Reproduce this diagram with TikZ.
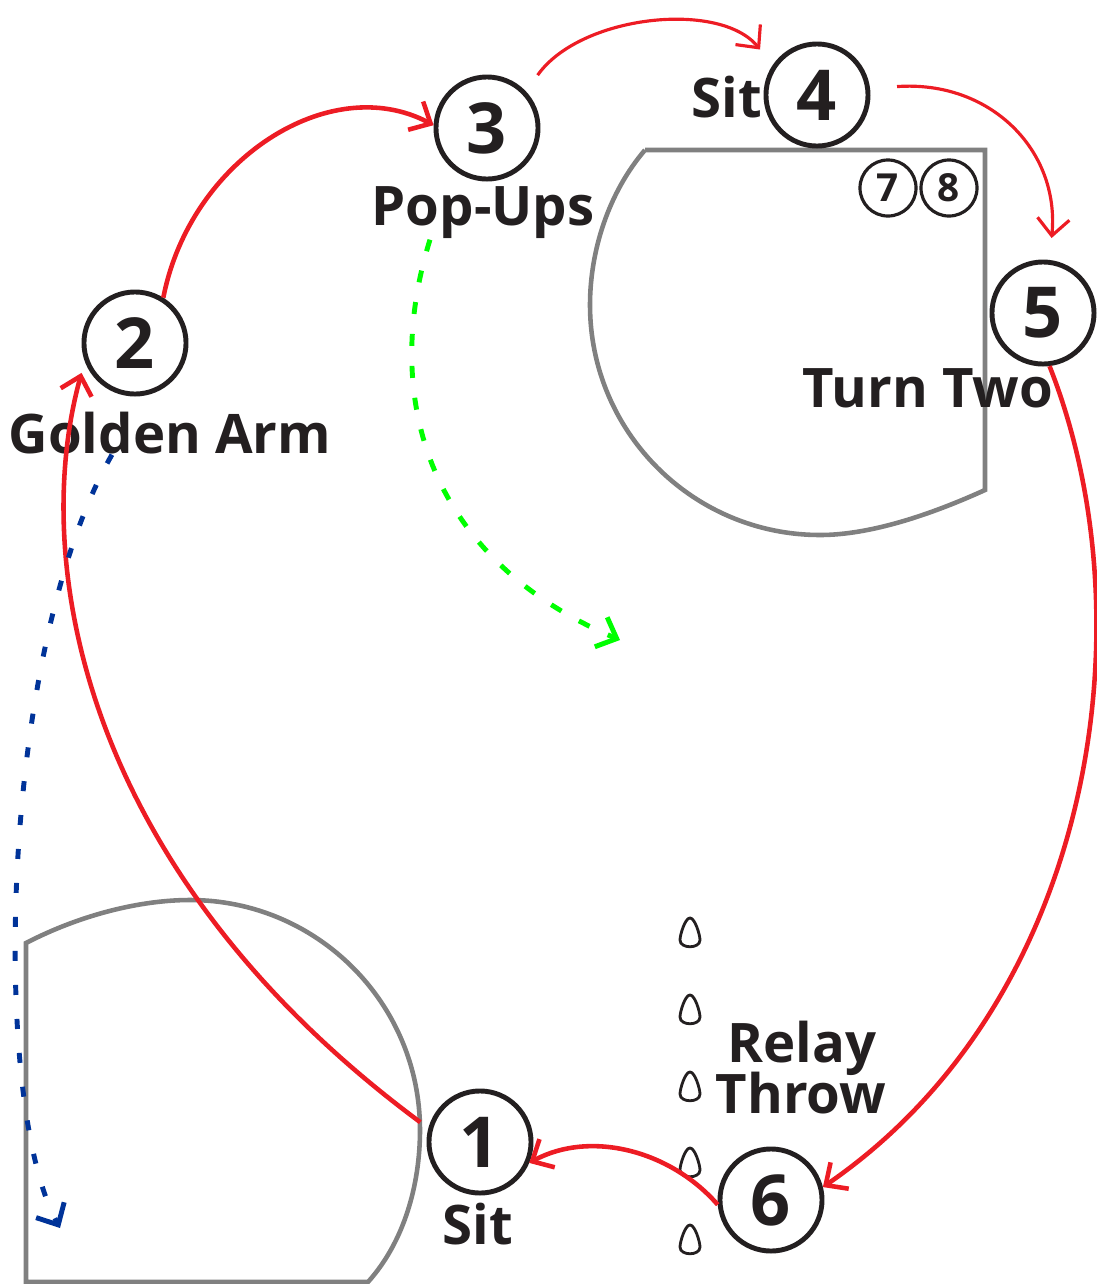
\documentclass[tikz,border=0pt]{standalone}
\usepackage{fontspec}
\setmainfont{Open Sans}
\usetikzlibrary{arrows.meta}
\definecolor{ink}{RGB}{35,31,32}
\definecolor{runred}{RGB}{237,28,36}
\definecolor{fieldgray}{RGB}{128,128,128}
\definecolor{ballgreen}{RGB}{0,255,0}
\definecolor{ballblue}{RGB}{0,51,153}
\tikzset{>=Straight Barb}
\tikzset{
  station/.style={circle,draw=ink,line width=1.4pt,minimum size=1.02cm,inner sep=0pt,
    text=ink,font=\fontsize{20}{20}\selectfont\bfseries},
  ministation/.style={circle,draw=ink,line width=0.9pt,minimum size=0.56cm,inner sep=0pt,
    text=ink,font=\fontsize{11}{11}\selectfont\bfseries},
  drill/.style={inner sep=0pt,text=ink,font=\fontsize{15.5}{15.5}\selectfont\bfseries},
  field/.style={draw=fieldgray,line width=1.3pt},
  run/.style={draw=runred,line width=1.3pt,-{Straight Barb[length=1.7mm,width=3.2mm]}},
  thinrun/.style={run,line width=0.9pt},
  throwpath/.style={line width=1.4pt,-{Straight Barb[length=1.7mm,width=3.2mm]}},
  cone/.pic={\draw[ink,line width=0.8pt] (0,-15) .. controls (-5,-15) and (-10,2) .. (-10,7)
    .. controls (-10,16) and (10,16) .. (10,7) .. controls (10,2) and (5,-15) .. (0,-15) -- cycle;}
}

\begin{document}
\begin{tikzpicture}[x=0.01cm,y=-0.01cm]
\useasboundingbox (0,0) rectangle (1097,1284);

% infields
\draw[field] (26,1282) -- (26,943) .. controls (80,915) and (140,900) .. (190,900)
  .. controls (317,900) and (420,1003) .. (420,1130)
  .. controls (420,1185) and (404,1242) .. (368,1282) -- cycle;
\draw[field] (645,150) -- (985,150) -- (985,490) .. controls (930,515) and (870,535) .. (820,535)
  .. controls (693,535) and (590,432) .. (590,305)
  .. controls (590,250) and (609,192) .. (645,150);

% cones
\foreach \cy in {933,1010,1087,1163,1240}
  \pic at (690,\cy) {cone};

% stations
\node[station] (n1) at (480,1142) {1};
\node[station] (n2) at (135,343) {2};
\node[station] (n3) at (487,128) {3};
\node[station] (n4) at (817,95) {4};
\node[station] (n5) at (1043,313) {5};
\node[station] (n6) at (771,1200) {6};
\node[ministation] (n7) at (888,188) {7};
\node[ministation] (n8) at (949,188) {8};

% drill names
\node[drill] (golden) at (170,433) {Golden Arm};
\node[drill] (popups) at (483,213) {Pop-Ups};
\node[drill] (sitfour) at (727,97) {Sit};
\node[drill] (turntwo) at (928,388) {Turn Two};
\node[drill] (relay) at (802,1048) {Relay};
\node[drill] (throw) at (801,1093) {Throw};
\node[drill] (sitone) at (478,1224) {Sit};

% running order
\draw[run,shorten <=0.1cm,shorten >=0.12cm] (n1.165) .. controls (80,870) and (30,560) .. (n2.200);
\draw[run] (n2.58) .. controls (190,160) and (330,70) .. (n3.177);
\draw[thinrun,shorten <=0.2cm,shorten >=0.2cm] (n3.43) .. controls (580,15) and (720,0) .. (n4.146);
\draw[thinrun,shorten <=0.27cm,shorten >=0.22cm] (n4.7) .. controls (990,80) and (1060,150) .. (n5.83);
\draw[run] (n5.277) .. controls (1150,620) and (1095,1000) .. (n6.14);
\draw[run] (n6.185) .. controls (670,1150) and (590,1130) .. (n1.337);

% ball paths
\coordinate (greenend) at (620,640);
\coordinate (blueend) at (60,1228);
\draw[throwpath,ballgreen,dash pattern=on 0.12cm off 0.2cm] ([xshift=-0.53cm]popups.south)
  .. controls (380,400) and (430,560) .. (greenend);
\draw[throwpath,ballblue,dash pattern=on 0.1cm off 0.24cm] ([xshift=-0.58cm]golden.south)
  .. controls (0,650) and (-10,1100) .. (blueend);
\end{tikzpicture}
\end{document}
